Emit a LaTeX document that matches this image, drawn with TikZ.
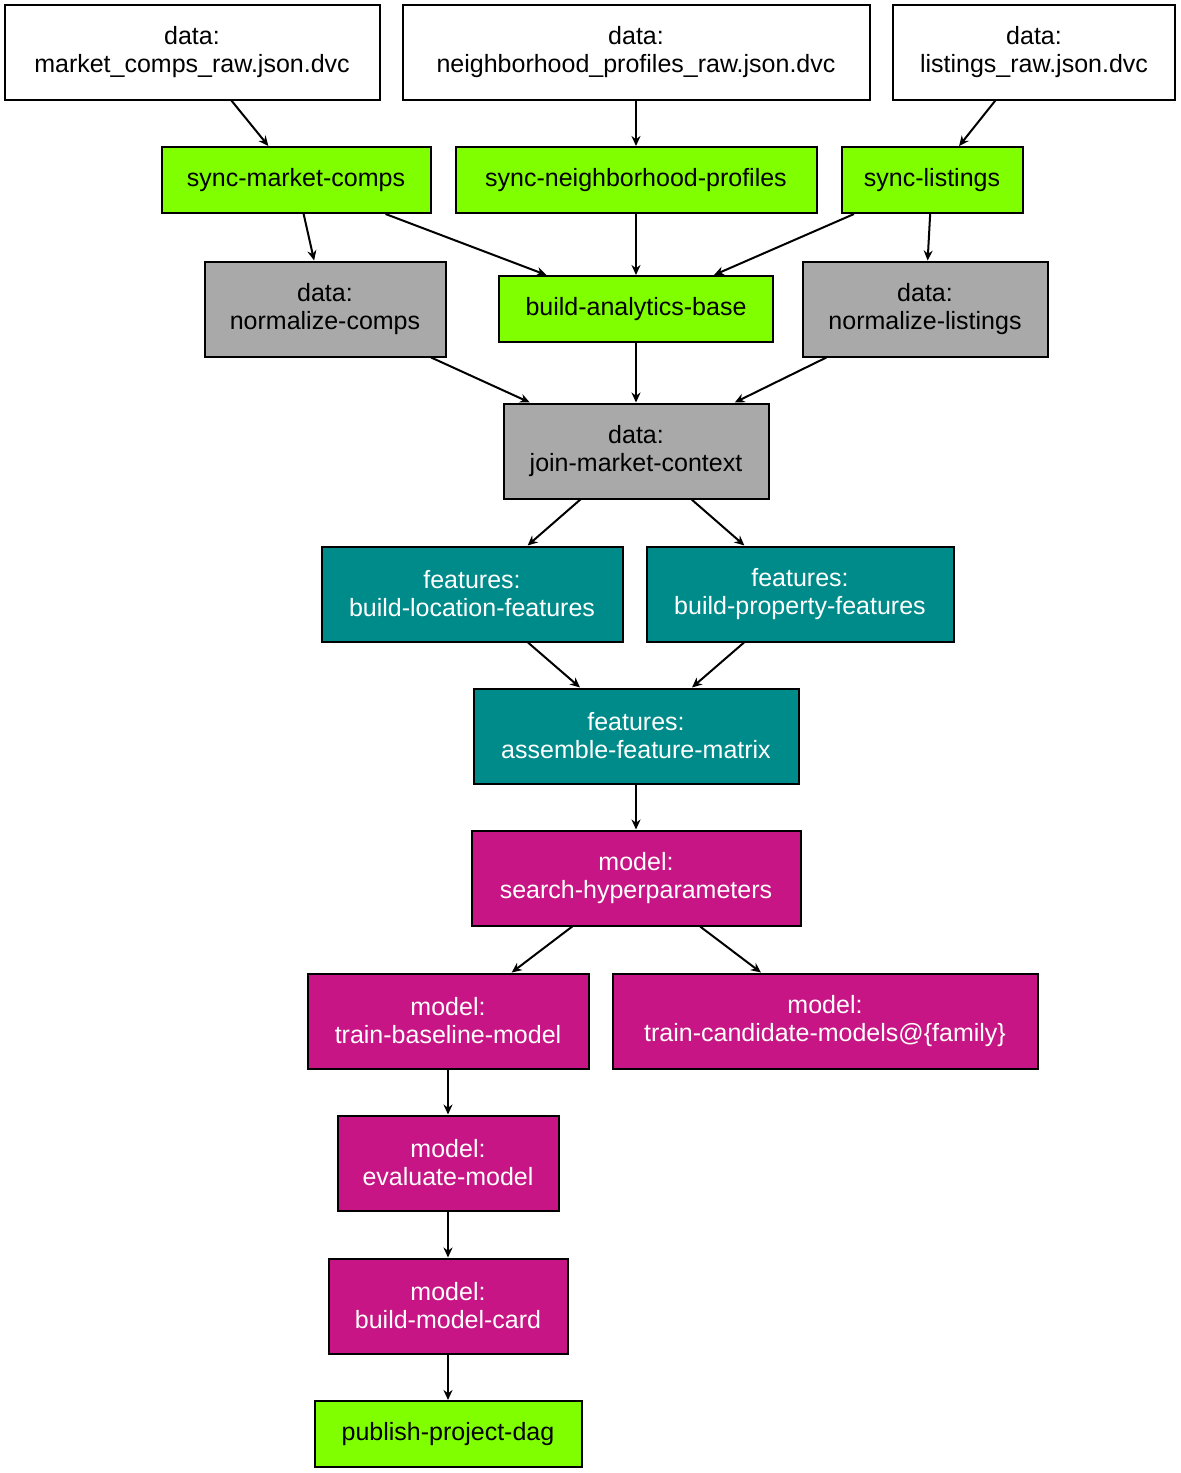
\documentclass[tikz,border=0pt]{standalone}
\usepackage{fontspec}
\setmainfont{Liberation Sans}
\usetikzlibrary{arrows.meta}
\definecolor{stagegreen}{HTML}{7FFF00}
\definecolor{stagegray}{HTML}{A9A9A9}
\definecolor{stageteal}{HTML}{008B8B}
\definecolor{stagemag}{HTML}{C71585}

\begin{document}
\begin{tikzpicture}[x=0.5pt, y=-0.5pt,
    box/.style={draw, line width=1pt, inner sep=0pt, align=center,
      font=\fontsize{12.5}{14}\selectfont, minimum height=47.5pt},
    raw/.style={box, fill=white},
    sync/.style={box, fill=stagegreen, minimum height=33pt},
    prep/.style={box, fill=stagegray},
    feat/.style={box, fill=stageteal, text=white},
    mdl/.style={box, fill=stagemag, text=white},
    edge/.style={line width=1pt, -{Stealth[length=5pt,width=4.5pt]}}]
    \useasboundingbox (0,0) rectangle (1180,1473);

    % raw data
    \node[raw, minimum width=187.5pt] (mcraw) at (192,52) {data:\\market\_comps\_raw.json.dvc};
    \node[raw, minimum width=233.5pt] (nbraw) at (636,52) {data:\\neighborhood\_profiles\_raw.json.dvc};
    \node[raw, minimum width=141pt] (liraw) at (1034,52) {data:\\listings\_raw.json.dvc};

    % sync stages
    \node[sync, minimum width=134.5pt] (smc) at (296,180) {sync-market-comps};
    \node[sync, minimum width=180.5pt] (snb) at (636,180) {sync-neighborhood-profiles};
    \node[sync, minimum width=90.5pt] (sli) at (932,180) {sync-listings};

    % data stages
    \node[prep, minimum width=120.5pt] (ncomp) at (325,309) {data:\\normalize-comps};
    \node[sync, minimum width=137pt] (base) at (636,309) {build-analytics-base};
    \node[prep, minimum width=122.5pt] (nlist) at (925,309) {data:\\normalize-listings};
    \node[prep, minimum width=132.5pt] (join) at (636,451) {data:\\join-market-context};

    % feature stages
    \node[feat, minimum width=150.5pt] (loc) at (472,594) {features:\\build-location-features};
    \node[feat, minimum width=153.5pt] (prop) at (800,594) {features:\\build-property-features};
    \node[feat, minimum width=162.5pt] (asm) at (636,736) {features:\\assemble-feature-matrix};

    % model stages
    \node[mdl, minimum width=164.5pt] (hps) at (636,878) {model:\\search-hyperparameters};
    \node[mdl, minimum width=140.5pt] (bsl) at (448,1021) {model:\\train-baseline-model};
    \node[mdl, minimum width=212.5pt] (cand) at (825,1021) {model:\\train-candidate-models@\{family\}};
    \node[mdl, minimum width=110.5pt] (eval) at (448,1163) {model:\\evaluate-model};
    \node[mdl, minimum width=119.5pt] (card) at (448,1306) {model:\\build-model-card};
    \node[sync, minimum width=133.5pt] (pub) at (448,1434) {publish-project-dag};

    % edges
    \draw[edge] (mcraw) -- (smc);
    \draw[edge] (nbraw) -- (snb);
    \draw[edge] (liraw) -- (sli);
    \draw[edge] (smc) -- (ncomp);
    \draw[edge] (smc) -- (base);
    \draw[edge] (snb) -- (base);
    \draw[edge] (sli) -- (base);
    \draw[edge] (sli) -- (nlist);
    \draw[edge] (ncomp) -- (join);
    \draw[edge] (base) -- (join);
    \draw[edge] (nlist) -- (join);
    \draw[edge] (join) -- (loc);
    \draw[edge] (join) -- (prop);
    \draw[edge] (loc) -- (asm);
    \draw[edge] (prop) -- (asm);
    \draw[edge] (asm) -- (hps);
    \draw[edge] (hps) -- (bsl);
    \draw[edge] (hps) -- (cand);
    \draw[edge] (bsl) -- (eval);
    \draw[edge] (eval) -- (card);
    \draw[edge] (card) -- (pub);

\end{tikzpicture}
\end{document}
